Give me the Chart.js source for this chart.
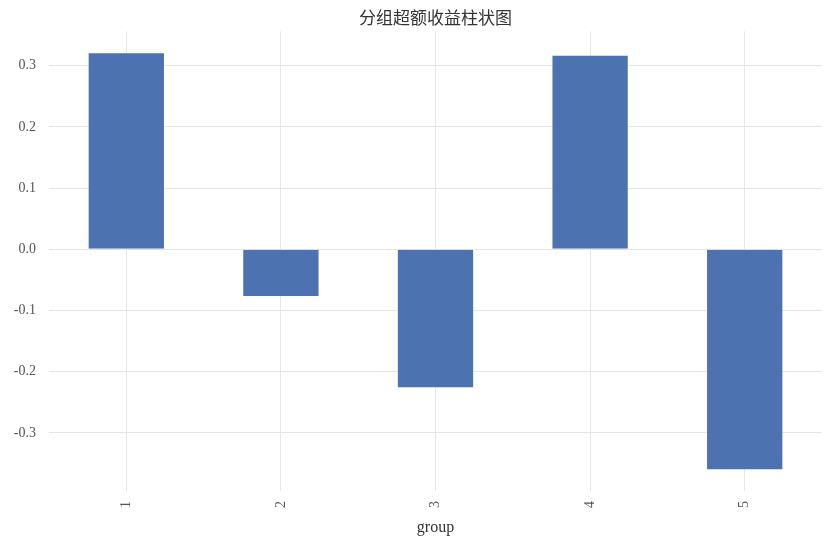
<!DOCTYPE html>
<html lang="zh">
  <head>
    <meta charset="UTF-8" />
    <title>分组超额收益柱状图</title>
    <script src="https://cdn.jsdelivr.net/npm/chart.js"></script>
    <style>
      html, body { margin: 0; padding: 0; background: #fff; }
      #wrap { position: relative; width: 832px; height: 544px; }
    </style>
  </head>
  <body>
    <div id="wrap"><canvas id="groupChart"></canvas></div>
    <script>
      // values
      const groups = ["1", "2", "3", "4", "5"];
      const excessReturn = [0.322, -0.078, -0.227, 0.318, -0.361];
      const yTicks = [-0.3, -0.2, -0.1, 0.0, 0.1, 0.2, 0.3];

      const serif = "'Liberation Serif', 'DejaVu Serif', serif";
      const textColor = "#555555";
      const gridColor = "#e5e5e5";

      const ctx = document.getElementById("groupChart").getContext("2d");
      new Chart(ctx, {
        type: "bar",
        data: {
          labels: groups,
          datasets: [
            {
              label: "excess",
              data: excessReturn,
              backgroundColor: "#4c72b0",
              borderColor: "rgba(255,255,255,0.25)",
              borderWidth: 1,
              barPercentage: 0.5,
              categoryPercentage: 1.0,
            },
          ],
        },
        options: {
          responsive: true,
          maintainAspectRatio: false,
          animation: false,
          layout: { padding: { left: 0, right: 10, top: 0, bottom: 7 } },
          plugins: {
            legend: { display: false },
            tooltip: { enabled: false },
            title: {
              display: true,
              fullSize: false,
              text: "分组超额收益柱状图",
              color: "#333333",
              font: { family: "'Noto Sans CJK SC', sans-serif", size: 17, weight: "normal" },
              padding: { top: 7, bottom: 4 },
            },
          },
          scales: {
            x: {
              grid: { color: gridColor, drawTicks: false, offset: false },
              border: { display: false },
              ticks: {
                color: textColor,
                font: { family: serif, size: 14 },
                minRotation: 90,
                maxRotation: 90,
                padding: 10,
              },
              title: {
                display: true,
                text: "group",
                color: "#333333",
                font: { family: serif, size: 16 },
                padding: { top: 0, bottom: 0 },
              },
              afterFit: (scale) => { scale.height = 46; },
            },
            y: {
              min: -0.395,
              max: 0.356,
              grid: { color: gridColor, drawTicks: false },
              border: { display: false },
              afterBuildTicks: (scale) => {
                scale.ticks = yTicks.map((v) => ({ value: v }));
              },
              ticks: {
                color: textColor,
                font: { family: serif, size: 14 },
                padding: 13,
                callback: (v) => v.toFixed(1),
              },
              afterFit: (scale) => { scale.width = 49; },
            },
          },
        },
      });
    </script>
  </body>
</html>
